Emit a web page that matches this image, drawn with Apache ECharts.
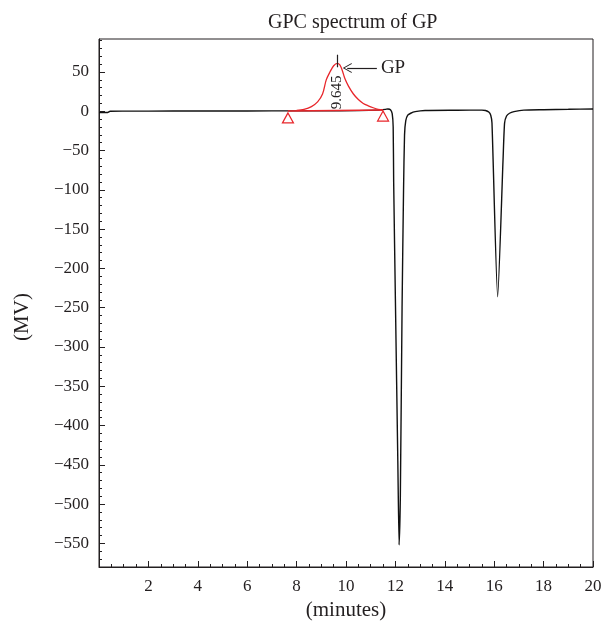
<!DOCTYPE html>
<html>
<head>
<meta charset="utf-8">
<script src="https://cdn.jsdelivr.net/npm/echarts@6/dist/echarts.min.js"></script>
<style>
  html, body { margin: 0; padding: 0; background: #fff; }
  #chart { width: 605px; height: 628px; }
</style>
</head>
<body>
<div id="chart"></div>
<script>
// black detector trace (minutes, MV)
const traceTime = [0, 0.35, 0.45, 1, 3, 5, 7, 9, 10.5, 11.3, 11.6, 11.7, 11.8, 11.87, 11.91, 11.93,
  12.0, 12.1, 12.15, 12.2, 12.27, 12.33, 12.37, 12.42, 12.5, 12.62, 12.8, 13.2, 14.5,
  15.5, 15.65, 15.78, 15.86, 15.91, 16.14, 16.36, 16.42, 16.5, 16.62, 16.8, 17.2, 18, 19, 20];
const traceValue = [-1.5, -1.5, 0, 0.2, 0.3, 0.4, 0.5, 0.6, 0.8, 1.5, 2.5, 3, 2, -3, -20, -90,
  -240, -450, -552, -490, -250, -100, -30, -12, -5, -2.5, -0.5, 1, 1.3,
  1.5, 1, -1, -5, -15, -236, -60, -15, -6, -2.5, -0.5, 1.5, 2, 2.5, 3];

// red integrated GP peak
const gpTime = [8.0, 8.3, 8.6, 8.85, 9.05, 9.2, 9.35, 9.5, 9.645, 9.75, 9.85, 9.95, 10.1, 10.3,
  10.5, 10.7, 10.9, 11.1, 11.3, 11.5];
const gpValue = [1, 2.5, 6, 12, 22, 40, 50, 58, 61, 59, 52, 42, 32, 22, 15, 10, 7, 4.5, 2.5, 1.5];
const gpPeakTime = 9.645;
const gpBaseStart = [7.65, 0.5];
const gpBaseEnd = [11.5, 1.5];

const xTicks = [0, 2, 4, 6, 8, 10, 12, 14, 16, 18, 20];
const yMajorTicks = [-550, -500, -450, -400, -350, -300, -250, -200, -150, -100, -50, 0, 50];
const yMinorTicks = [];
for (let v = -570; v <= 90; v += 10) yMinorTicks.push(v);

const ink = '#231f20';
const red = '#e8262b';
const font = '"Liberation Serif", "DejaVu Serif", serif';

const chart = echarts.init(document.getElementById('chart'));

const zip = (a, b) => a.map((t, i) => [t, b[i]]);

chart.setOption({
  animation: false,
  title: {
    text: 'GPC spectrum of GP',
    left: 263,
    top: 8,
    textStyle: { fontFamily: font, fontSize: 20, fontWeight: 'normal', color: ink },
  },
  grid: {
    left: 99, right: 12, top: 39, bottom: 61,
    show: true, borderColor: ink, borderWidth: 1,
  },
  xAxis: {
    type: 'value',
    min: xTicks[0],
    max: xTicks[xTicks.length - 1],
    interval: 2,
    name: '(minutes)',
    nameLocation: 'middle',
    nameGap: 31,
    nameTextStyle: { fontFamily: font, fontSize: 21, color: ink },
    axisLine: { onZero: false, lineStyle: { color: ink, width: 1 } },
    axisTick: { inside: true, length: 6, lineStyle: { color: ink } },
    minorTick: { show: true, splitNumber: 4, length: 3, lineStyle: { color: ink } },
    axisLabel: {
      fontFamily: font, fontSize: 17, color: ink, margin: 11,
      formatter: (v) => (v === 0 ? '' : String(v)),
    },
    splitLine: { show: false },
  },
  yAxis: [
    {
      type: 'value',
      min: -580,
      max: 92,
      name: '(MV)',
      nameLocation: 'middle',
      nameGap: 66,
      nameRotate: 90,
      nameTextStyle: { fontFamily: font, fontSize: 21, color: ink, padding: [0, 0, 0, -28] },
      axisLine: { show: true, onZero: false, lineStyle: { color: ink, width: 1 } },
      axisTick: { inside: true, length: 6, customValues: yMajorTicks, lineStyle: { color: ink } },
      axisLabel: {
        customValues: yMajorTicks,
        fontFamily: font, fontSize: 17, color: ink, margin: 10,
        formatter: (v) => String(v).replace('-', '\u2212'),
      },
      splitLine: { show: false },
    },
    {
      type: 'value',
      min: -580,
      max: 92,
      position: 'left',
      axisLine: { show: false, onZero: false },
      axisTick: { show: true, inside: true, length: 3, customValues: yMinorTicks, lineStyle: { color: ink } },
      axisLabel: { show: false },
      splitLine: { show: false },
    },
  ],
  series: [
    {
      name: 'trace',
      type: 'line',
      yAxisIndex: 0,
      data: zip(traceTime, traceValue),
      showSymbol: false,
      smooth: 0.2,
      lineStyle: { color: '#111', width: 1.4 },
    },
    {
      name: 'GP',
      type: 'line',
      yAxisIndex: 0,
      data: zip(gpTime, gpValue),
      showSymbol: false,
      smooth: 0.3,
      lineStyle: { color: red, width: 1.3 },
      markLine: {
        silent: true,
        animation: false,
        data: [
          [
            { coord: gpBaseStart, symbol: 'none', lineStyle: { color: red, width: 1.5, type: 'solid' }, label: { show: false } },
            { coord: gpBaseEnd, symbol: 'none' },
          ],
          [
            { coord: [gpPeakTime, 72], symbol: 'none', lineStyle: { color: ink, width: 1.2, type: 'solid' }, label: { show: false } },
            { coord: [gpPeakTime, 56], symbol: 'none' },
          ],
          [
            {
              coord: [11.25, 55],
              symbol: 'none',
              lineStyle: { color: ink, width: 1.2, type: 'solid' },
              label: {
                show: true, position: 'start', formatter: 'GP', distance: 4,
                fontFamily: font, fontSize: 19, color: ink,
              },
            },
            { coord: [10.05, 55], symbol: 'path://M0,10 L5,0 L10,10 L9,10 L5,2 L1,10 Z', symbolSize: [10, 9] },
          ],
        ],
      },
      markPoint: {
        silent: true,
        animation: false,
        data: [
          {
            coord: gpBaseStart, symbol: 'triangle', symbolSize: [11, 10], symbolOffset: [0, 7],
            itemStyle: { color: '#fff', borderColor: red, borderWidth: 1.2 }, label: { show: false },
          },
          {
            coord: gpBaseEnd, symbol: 'triangle', symbolSize: [11, 10], symbolOffset: [0, 6],
            itemStyle: { color: '#fff', borderColor: red, borderWidth: 1.2 }, label: { show: false },
          },
          {
            coord: [gpPeakTime, 24], symbol: 'circle', symbolSize: 1,
            itemStyle: { color: 'rgba(0,0,0,0)' },
            label: {
              show: true, position: 'inside', rotate: 90, formatter: String(gpPeakTime),
              fontFamily: font, fontSize: 15, color: ink,
            },
          },
        ],
      },
    },
  ],
});
</script>
</body>
</html>
